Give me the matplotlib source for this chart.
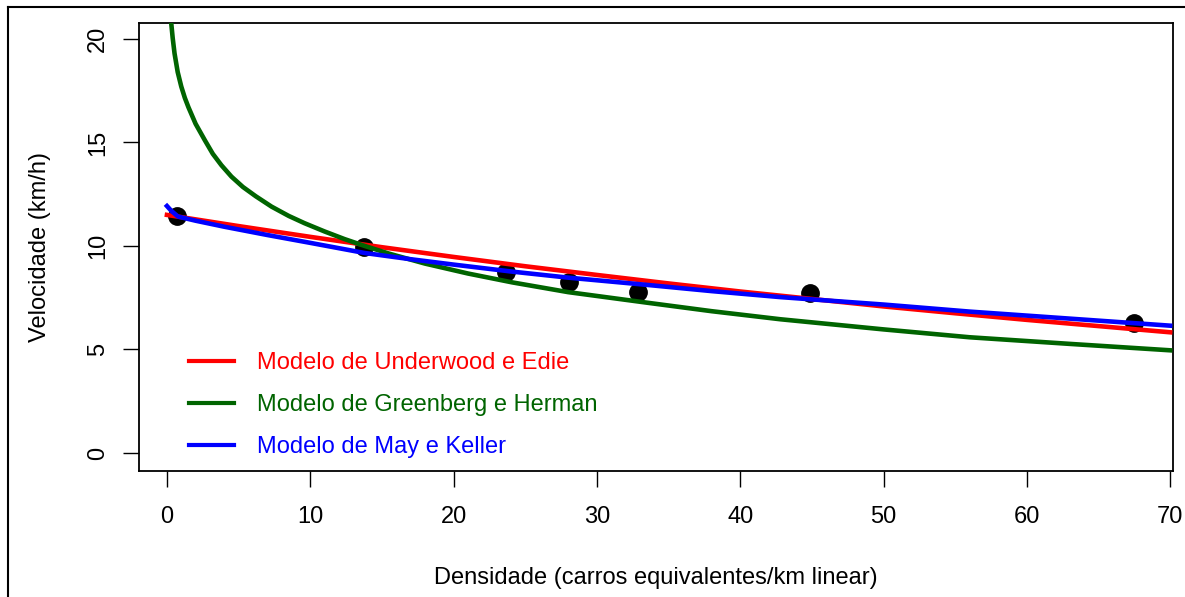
import matplotlib
matplotlib.use("Agg")
import matplotlib.pyplot as plt
from matplotlib.lines import Line2D

plt.rcParams['font.family'] = ['Liberation Sans', 'DejaVu Sans']

# observed points
dens_obs = [0.70, 13.73, 23.64, 28.05, 32.9, 44.87, 67.5]
vel_obs = [11.47, 9.94, 8.73, 8.28, 7.79, 7.71, 6.26]

# Underwood e Edie curve
dens_ue = [0, 5, 10, 15, 20, 25, 30, 35, 40, 45, 50, 55, 60, 65, 70]
vel_ue = [11.5, 10.96, 10.44, 9.94, 9.47, 9.02, 8.60, 8.19, 7.80, 7.44,
          7.08, 6.75, 6.43, 6.13, 5.83]

# Greenberg e Herman curve
dens_gh = [0.25, 0.30, 0.40, 0.53, 0.75, 1.0, 1.25, 1.5, 2.0, 2.65, 3.2, 3.8,
           4.5, 5.3, 6.2, 7.3, 8.5, 9.6, 11.0, 12.4, 13.8, 15.5, 18, 21, 24.1,
           28, 33.5, 38, 42.8, 50, 56, 63, 70]
vel_gh = [21.2, 20.76, 20.05, 19.3, 18.4, 17.7, 17.15, 16.7, 15.9, 15.1, 14.45,
          13.9, 13.35, 12.85, 12.4, 11.9, 11.45, 11.1, 10.7, 10.33, 10.0, 9.63,
          9.15, 8.67, 8.24, 7.77, 7.26, 6.85, 6.46, 5.97, 5.59, 5.27, 4.96]

# May e Keller curve
dens_mk = [0, 0.3, 0.77, 2, 4, 7, 10, 13.8, 17, 20, 24.1, 28, 33.5, 38,
           42.8, 50, 56, 63, 70]
vel_mk = [11.93, 11.7, 11.42, 11.22, 10.93, 10.53, 10.15, 9.66, 9.36, 9.1,
          8.76, 8.47, 8.12, 7.82, 7.53, 7.17, 6.83, 6.49, 6.15]

labels = ["Modelo de Underwood e Edie", "Modelo de Greenberg e Herman",
          "Modelo de May e Keller"]
colors = ["#ff0000", "#006400", "#0000ff"]

x_ticks = [0, 10, 20, 30, 40, 50, 60, 70]
y_ticks = [0, 5, 10, 15, 20]

W, H = 1185, 597
fig = plt.figure(figsize=(W / 100, H / 100), dpi=100)
ax = fig.add_axes([139 / W, 1 - 471 / H, (1173 - 139) / W, (471 - 23) / H])

# page frame around the figure (cropped from a document)
fig.add_artist(Line2D([8 / W, 8 / W], [0, 1 - 7 / H], transform=fig.transFigure,
                      color="black", lw=1.5))
fig.add_artist(Line2D([8 / W, 1], [1 - 7 / H, 1 - 7 / H], transform=fig.transFigure,
                      color="black", lw=1.5))

ax.plot(dens_obs, vel_obs, "o", color="black", ms=12.5, zorder=2)
ax.plot(dens_ue, vel_ue, color=colors[0], lw=3.3, label=labels[0], zorder=3)
ax.plot(dens_gh, vel_gh, color=colors[1], lw=3.3, label=labels[1], zorder=3)
ax.plot(dens_mk, vel_mk, color=colors[2], lw=3.3, label=labels[2], zorder=3)

ax.set_xlim(-1.95, 70.2)
ax.set_ylim(-0.87, 20.77)
ax.set_xticks(x_ticks)
ax.set_yticks(y_ticks)
ax.set_yticklabels([str(v) for v in y_ticks], rotation=90, va="center")
ax.tick_params(axis="both", labelsize=17, length=11.5, width=1.0, direction="out")
ax.tick_params(axis="x", pad=14)
ax.tick_params(axis="y", pad=10)
for sp in ax.spines.values():
    sp.set_linewidth(1.3)

ax.set_xlabel("Densidade (carros equivalentes/km linear)", fontsize=17)
ax.set_ylabel("Velocidade (km/h)", fontsize=17)
ax.xaxis.set_label_coords(0.5, (471 - 567) / 448, transform=ax.transAxes)
ax.yaxis.set_label_coords((51 - 139) / 1034, 0.5, transform=ax.transAxes)

leg = ax.legend(loc="upper left", bbox_to_anchor=((189 - 139) / 1034, (471 - 352) / 448),
                frameon=False, fontsize=17, handlelength=1.9, handletextpad=1.0,
                labelspacing=0.85, borderpad=0, borderaxespad=0, labelcolor="linecolor")
for h in leg.get_lines():
    h.set_linewidth(3.0)

fig.savefig("out.png", dpi=100)
